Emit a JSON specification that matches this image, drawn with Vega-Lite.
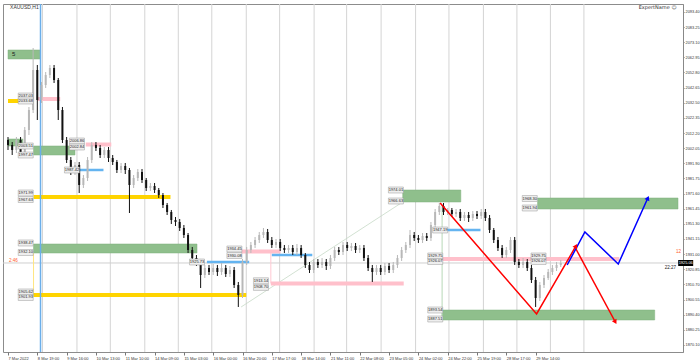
{
"$schema": "https://vega.github.io/schema/vega-lite/v6.json",
"width": 680, "height": 348,
"autosize": "none",
"padding": {"left": 3, "top": 4, "right": 17, "bottom": 10},
"background": "white",
"config": {"view": {"stroke": "#8c8c8c", "strokeWidth": 1}},
"resolve": {"axis": {"x": "independent", "y": "independent"}},
"datasets": {
"candles": [
{"b":0,"o":2007.53,"h":2009.54,"l":2000.83,"c":2004.18},
{"b":3,"o":2004.18,"h":2006.19,"l":1997.47,"c":2000.83},
{"b":6,"o":2000.83,"h":2009.54,"l":1998.81,"c":2007.53},
{"b":9,"o":2007.53,"h":2009.54,"l":1995.46,"c":1997.47},
{"b":12,"o":1997.47,"h":2016.25,"l":1995.46,"c":2014.24},
{"b":15,"o":2014.24,"h":2029.66,"l":2010.88,"c":2027.64},
{"b":18,"o":2027.64,"h":2069.22,"l":2025.63,"c":2054.47},
{"b":21,"o":2054.47,"h":2057.82,"l":2020.94,"c":2034.35},
{"b":24,"o":2034.35,"h":2046.42,"l":2032.34,"c":2044.41},
{"b":27,"o":2044.41,"h":2053.12,"l":2042.40,"c":2051.11},
{"b":30,"o":2051.11,"h":2057.82,"l":2049.10,"c":2055.81},
{"b":33,"o":2055.81,"h":2057.82,"l":2045.75,"c":2047.76},
{"b":36,"o":2047.76,"h":2049.10,"l":2020.94,"c":2027.64},
{"b":39,"o":2027.64,"h":2029.66,"l":2005.52,"c":2007.53},
{"b":42,"o":2007.53,"h":2009.54,"l":1992.11,"c":1994.12},
{"b":45,"o":1994.12,"h":1996.13,"l":1984.06,"c":1986.07},
{"b":48,"o":1986.07,"h":1992.78,"l":1984.06,"c":1990.77},
{"b":51,"o":1990.77,"h":1992.78,"l":1971.99,"c":1977.36},
{"b":54,"o":1977.36,"h":1984.06,"l":1975.35,"c":1982.05},
{"b":57,"o":1982.05,"h":1996.13,"l":1980.04,"c":1994.12},
{"b":60,"o":1994.12,"h":2006.19,"l":1992.11,"c":2004.18},
{"b":63,"o":2004.18,"h":2006.19,"l":2000.16,"c":2002.17},
{"b":66,"o":2002.17,"h":2004.18,"l":1995.46,"c":1997.47},
{"b":69,"o":1997.47,"h":2002.84,"l":1995.46,"c":2000.83},
{"b":72,"o":2000.83,"h":2002.84,"l":1992.78,"c":1995.46},
{"b":75,"o":1995.46,"h":1997.47,"l":1990.77,"c":1992.78},
{"b":78,"o":1992.78,"h":1994.12,"l":1985.40,"c":1987.42},
{"b":81,"o":1987.42,"h":1992.11,"l":1985.40,"c":1990.10},
{"b":84,"o":1990.10,"h":1992.11,"l":1984.73,"c":1987.42},
{"b":87,"o":1987.42,"h":1988.76,"l":1958.58,"c":1977.36},
{"b":90,"o":1977.36,"h":1984.06,"l":1975.35,"c":1982.05},
{"b":93,"o":1982.05,"h":1988.09,"l":1980.04,"c":1986.07},
{"b":96,"o":1986.07,"h":1988.09,"l":1978.70,"c":1980.71},
{"b":99,"o":1980.71,"h":1982.05,"l":1973.34,"c":1975.35},
{"b":102,"o":1975.35,"h":1978.70,"l":1973.34,"c":1976.69},
{"b":105,"o":1976.69,"h":1978.70,"l":1971.99,"c":1974.01},
{"b":108,"o":1974.01,"h":1975.35,"l":1968.64,"c":1970.65},
{"b":111,"o":1970.65,"h":1971.99,"l":1961.94,"c":1963.95},
{"b":114,"o":1963.95,"h":1965.29,"l":1957.24,"c":1959.26},
{"b":117,"o":1959.26,"h":1960.60,"l":1951.21,"c":1953.89},
{"b":120,"o":1953.89,"h":1955.90,"l":1949.87,"c":1952.55},
{"b":123,"o":1952.55,"h":1954.56,"l":1946.52,"c":1948.53},
{"b":126,"o":1948.53,"h":1950.54,"l":1941.82,"c":1943.83},
{"b":129,"o":1943.83,"h":1945.17,"l":1931.76,"c":1933.78},
{"b":132,"o":1933.78,"h":1935.79,"l":1925.73,"c":1928.41},
{"b":135,"o":1928.41,"h":1930.42,"l":1923.05,"c":1925.73},
{"b":138,"o":1925.73,"h":1927.74,"l":1908.30,"c":1917.01},
{"b":141,"o":1917.01,"h":1923.72,"l":1915.00,"c":1921.71},
{"b":144,"o":1921.71,"h":1923.72,"l":1917.01,"c":1919.02},
{"b":147,"o":1919.02,"h":1924.39,"l":1917.01,"c":1921.71},
{"b":150,"o":1921.71,"h":1923.72,"l":1916.34,"c":1919.02},
{"b":153,"o":1919.02,"h":1925.06,"l":1917.01,"c":1921.71},
{"b":156,"o":1921.71,"h":1923.72,"l":1915.67,"c":1917.68},
{"b":159,"o":1917.68,"h":1923.05,"l":1915.67,"c":1920.37},
{"b":162,"o":1920.37,"h":1922.38,"l":1908.30,"c":1910.31},
{"b":165,"o":1910.31,"h":1912.32,"l":1895.56,"c":1903.60},
{"b":168,"o":1903.60,"h":1927.74,"l":1901.59,"c":1925.73},
{"b":171,"o":1925.73,"h":1935.79,"l":1923.72,"c":1933.78},
{"b":174,"o":1933.78,"h":1939.14,"l":1931.76,"c":1937.13},
{"b":177,"o":1937.13,"h":1942.49,"l":1935.12,"c":1940.48},
{"b":180,"o":1940.48,"h":1945.85,"l":1938.47,"c":1943.83},
{"b":183,"o":1943.83,"h":1948.53,"l":1941.82,"c":1945.85},
{"b":186,"o":1945.85,"h":1947.86,"l":1938.47,"c":1940.48},
{"b":189,"o":1940.48,"h":1942.49,"l":1935.12,"c":1937.13},
{"b":192,"o":1937.13,"h":1941.15,"l":1935.12,"c":1939.14},
{"b":195,"o":1939.14,"h":1941.15,"l":1933.10,"c":1935.12},
{"b":198,"o":1935.12,"h":1937.13,"l":1931.76,"c":1933.78},
{"b":201,"o":1933.78,"h":1937.13,"l":1931.76,"c":1935.12},
{"b":204,"o":1935.12,"h":1937.13,"l":1930.42,"c":1932.43},
{"b":207,"o":1932.43,"h":1937.80,"l":1930.42,"c":1935.12},
{"b":210,"o":1935.12,"h":1937.13,"l":1928.41,"c":1930.42},
{"b":213,"o":1930.42,"h":1931.76,"l":1921.71,"c":1923.72},
{"b":216,"o":1923.72,"h":1925.73,"l":1918.35,"c":1920.37},
{"b":219,"o":1920.37,"h":1927.74,"l":1918.35,"c":1925.73},
{"b":222,"o":1925.73,"h":1927.74,"l":1921.71,"c":1923.72},
{"b":225,"o":1923.72,"h":1928.41,"l":1921.71,"c":1925.73},
{"b":228,"o":1925.73,"h":1927.74,"l":1920.37,"c":1923.05},
{"b":231,"o":1923.05,"h":1930.42,"l":1921.04,"c":1928.41},
{"b":234,"o":1928.41,"h":1935.79,"l":1926.40,"c":1933.78},
{"b":237,"o":1933.78,"h":1935.79,"l":1930.42,"c":1932.43},
{"b":240,"o":1932.43,"h":1939.14,"l":1930.42,"c":1937.13},
{"b":243,"o":1937.13,"h":1939.14,"l":1933.10,"c":1935.12},
{"b":246,"o":1935.12,"h":1938.47,"l":1933.10,"c":1936.46},
{"b":249,"o":1936.46,"h":1938.47,"l":1931.76,"c":1933.78},
{"b":252,"o":1933.78,"h":1937.13,"l":1931.76,"c":1935.12},
{"b":255,"o":1935.12,"h":1937.13,"l":1926.40,"c":1928.41},
{"b":258,"o":1928.41,"h":1930.42,"l":1919.69,"c":1921.71},
{"b":261,"o":1921.71,"h":1923.72,"l":1912.32,"c":1919.02},
{"b":264,"o":1919.02,"h":1923.72,"l":1917.01,"c":1921.71},
{"b":267,"o":1921.71,"h":1923.72,"l":1917.01,"c":1919.02},
{"b":270,"o":1919.02,"h":1925.06,"l":1917.01,"c":1923.05},
{"b":273,"o":1923.05,"h":1925.06,"l":1918.35,"c":1920.37},
{"b":276,"o":1920.37,"h":1925.73,"l":1918.35,"c":1923.72},
{"b":279,"o":1923.72,"h":1930.42,"l":1921.71,"c":1928.41},
{"b":282,"o":1928.41,"h":1935.79,"l":1926.40,"c":1933.78},
{"b":285,"o":1933.78,"h":1939.14,"l":1931.76,"c":1937.13},
{"b":288,"o":1937.13,"h":1947.19,"l":1935.12,"c":1943.83},
{"b":291,"o":1943.83,"h":1945.85,"l":1939.81,"c":1941.82},
{"b":294,"o":1941.82,"h":1943.83,"l":1938.47,"c":1940.48},
{"b":297,"o":1940.48,"h":1945.17,"l":1938.47,"c":1943.16},
{"b":300,"o":1943.16,"h":1945.17,"l":1939.81,"c":1941.82},
{"b":303,"o":1941.82,"h":1952.55,"l":1939.81,"c":1950.54},
{"b":306,"o":1950.54,"h":1961.27,"l":1948.53,"c":1959.26},
{"b":309,"o":1959.26,"h":1965.29,"l":1957.24,"c":1963.28},
{"b":312,"o":1963.28,"h":1965.29,"l":1957.24,"c":1959.26},
{"b":315,"o":1959.26,"h":1961.94,"l":1957.24,"c":1960.60},
{"b":318,"o":1960.60,"h":1961.94,"l":1955.90,"c":1957.91},
{"b":321,"o":1957.91,"h":1961.27,"l":1955.90,"c":1959.26},
{"b":324,"o":1959.26,"h":1961.27,"l":1953.22,"c":1955.23},
{"b":327,"o":1955.23,"h":1959.26,"l":1953.22,"c":1957.24},
{"b":330,"o":1957.24,"h":1959.26,"l":1952.55,"c":1955.23},
{"b":333,"o":1955.23,"h":1959.93,"l":1953.22,"c":1957.91},
{"b":336,"o":1957.91,"h":1959.93,"l":1954.56,"c":1956.57},
{"b":339,"o":1956.57,"h":1961.27,"l":1954.56,"c":1959.26},
{"b":342,"o":1959.26,"h":1961.27,"l":1953.22,"c":1955.23},
{"b":345,"o":1955.23,"h":1957.24,"l":1945.17,"c":1947.19},
{"b":348,"o":1947.19,"h":1948.53,"l":1938.47,"c":1940.48},
{"b":351,"o":1940.48,"h":1942.49,"l":1933.10,"c":1935.12},
{"b":354,"o":1935.12,"h":1937.13,"l":1928.41,"c":1930.42},
{"b":357,"o":1930.42,"h":1935.79,"l":1928.41,"c":1933.78},
{"b":360,"o":1933.78,"h":1942.49,"l":1931.76,"c":1940.48},
{"b":363,"o":1940.48,"h":1942.49,"l":1923.72,"c":1925.73},
{"b":366,"o":1925.73,"h":1927.74,"l":1921.71,"c":1923.72},
{"b":369,"o":1923.72,"h":1928.41,"l":1921.71,"c":1925.73},
{"b":372,"o":1925.73,"h":1927.74,"l":1919.69,"c":1921.71},
{"b":375,"o":1921.71,"h":1923.72,"l":1911.65,"c":1913.66},
{"b":378,"o":1913.66,"h":1915.67,"l":1895.56,"c":1901.59},
{"b":381,"o":1901.59,"h":1912.32,"l":1899.58,"c":1910.31},
{"b":384,"o":1910.31,"h":1917.01,"l":1908.30,"c":1915.00},
{"b":387,"o":1915.00,"h":1921.04,"l":1913.66,"c":1919.02},
{"b":390,"o":1919.02,"h":1923.72,"l":1917.01,"c":1921.71},
{"b":393,"o":1921.71,"h":1925.73,"l":1919.69,"c":1923.72},
{"b":396,"o":1923.72,"h":1927.07,"l":1922.38,"c":1925.06}
],
"grid": [{"b":24.7},{"b":49.4},{"b":73.3},{"b":98.0},{"b":122.0},{"b":146.0},{"b":170.7},{"b":194.6},{"b":219.3},{"b":242.6},{"b":267.3},{"b":292.0},{"b":315.9},{"b":340.6},{"b":364.6},{"b":388.6},{"b":412.6}],
"zones": [
{"b":0,"b2":23.3,"p":2067.88,"p2":2061.84},
{"b":0,"b2":10.6,"p":2008.20,"p2":2003.51},
{"b":18.3,"b2":48,"p":2003.51,"p2":1997.47},
{"b":18.3,"b2":135.4,"p":1937.80,"p2":1931.76},
{"b":282.8,"b2":324.4,"p":1974.01,"p2":1965.96},
{"b":379.4,"b2":480,"p":1968.64,"p2":1961.27},
{"b":311,"b2":463.3,"p":1893.54,"p2":1886.84}],
"yellow": [{"b":0,"b2":17.6,"p":2033.68},{"b":18.3,"b2":116.4,"p":1969.31},{"b":18.3,"b2":170.7,"p":1903.60}],
"pink": [{"b":21.2,"b2":37.4,"p":2035.02},{"b":55.7,"b2":74,"p":2004.51},{"b":167,"b2":195.3,"p":1932.77},{"b":188.3,"b2":283.5,"p":1911.32},{"b":311,"b2":437.9,"p":1927.74}],
"lightblue": [{"b":51.5,"b2":68.4,"p":1987.42},{"b":142.5,"b2":172.8,"p":1925.73},{"b":189,"b2":218,"p":1930.42},{"b":308.2,"b2":338.5,"p":1947.19}],
"red": [{"seg":1,"b":309.6,"p":1965.29},{"seg":1,"b":378.7,"p":1890.86},{"seg":1,"b":406.9,"p":1936.46},{"seg":2,"b":406.9,"p":1934.45},{"seg":2,"b":435.1,"p":1885.50}],
"blue": [{"b":400.6,"p":1923.72},{"b":413.3,"p":1945.85},{"b":437.2,"p":1924.39},{"b":458.4,"p":1968.64}],
"tags": [
{"b":12.7,"p":2037.03},{"b":12.7,"p":2033.68},{"b":12.7,"p":2003.51},{"b":12.7,"p":1997.47},
{"b":49.4,"p":2006.86},{"b":49.4,"p":2002.84},{"b":45.8,"p":1987.42},
{"b":12.7,"p":1971.99},{"b":12.7,"p":1967.63},{"b":12.7,"p":1938.47},{"b":12.7,"p":1932.10},
{"b":12.7,"p":1905.62},{"b":12.7,"p":1901.93},{"b":135.4,"p":1925.73},
{"b":162.2,"p":1934.45},{"b":162.2,"p":1930.08},{"b":181.2,"p":1913.14},{"b":181.2,"p":1908.70},
{"b":277.9,"p":1974.01},{"b":277.9,"p":1966.63},{"b":309.6,"p":1947.19},
{"b":306.1,"p":1929.75},{"b":306.1,"p":1926.07},{"b":306.1,"p":1893.54},{"b":306.1,"p":1887.51},
{"b":373.8,"p":1968.30},{"b":373.8,"p":1961.94},{"b":380.1,"p":1929.75},{"b":380.1,"p":1926.07}]
},
"layer": [
{"data":{"name":"grid"},"mark":{"type":"rule","color":"#d4d4d4","strokeWidth":1},
 "encoding":{"x":{"field":"b","type":"quantitative","scale":{"domain":[0,480],"nice":false,"zero":false},"axis":null}}},
{"data":{"values":[{"p":1925.06}]},"mark":{"type":"rule","color":"#cfcfcf","strokeWidth":1},
 "encoding":{"y":{"field":"p","type":"quantitative","scale":{"domain":[1865.38,2098.72],"nice":false,"zero":false},"axis":null}}},
{"data":{"values":[{"b":167,"p":1895.56},{"b":282.8,"p":1965.96}]},"mark":{"type":"line","color":"#c6d9c6","strokeWidth":0.8},
 "encoding":{"x":{"field":"b","type":"quantitative","scale":{"domain":[0,480],"nice":false,"zero":false},"axis":null},
  "y":{"field":"p","type":"quantitative","scale":{"domain":[1865.38,2098.72],"nice":false,"zero":false},"axis":null}}},
{"data":{"name":"zones"},"mark":{"type":"rect","color":"#8fbf8c","stroke":"#7fb07c","strokeWidth":0.5},
 "encoding":{"x":{"field":"b","type":"quantitative","scale":{"domain":[0,480],"nice":false,"zero":false},"axis":null},"x2":{"field":"b2"},
  "y":{"field":"p","type":"quantitative","scale":{"domain":[1865.38,2098.72],"nice":false,"zero":false},"axis":null},"y2":{"field":"p2"}}},
{"data":{"values":[{"b":18.3,"p":1931.76,"p2":1902.26}]},"mark":{"type":"rule","color":"#ffe680","strokeWidth":1},
 "encoding":{"x":{"field":"b","type":"quantitative","scale":{"domain":[0,480],"nice":false,"zero":false},"axis":null},
  "y":{"field":"p","type":"quantitative","scale":{"domain":[1865.38,2098.72],"nice":false,"zero":false},"axis":null},"y2":{"field":"p2"}}},
{"data":{"values":[{"b":311,"p":1963.95,"p2":1886.84}]},"mark":{"type":"rule","color":"#b8d8b8","strokeWidth":1},
 "encoding":{"x":{"field":"b","type":"quantitative","scale":{"domain":[0,480],"nice":false,"zero":false},"axis":null},
  "y":{"field":"p","type":"quantitative","scale":{"domain":[1865.38,2098.72],"nice":false,"zero":false},"axis":null},"y2":{"field":"p2"}}},
{"data":{"values":[{"b":188.3,"p":1932.77,"p2":1911.32}]},"mark":{"type":"rule","color":"#ffc8d2","strokeWidth":1},
 "encoding":{"x":{"field":"b","type":"quantitative","scale":{"domain":[0,480],"nice":false,"zero":false},"axis":null},
  "y":{"field":"p","type":"quantitative","scale":{"domain":[1865.38,2098.72],"nice":false,"zero":false},"axis":null},"y2":{"field":"p2"}}},
{"data":{"name":"yellow"},"mark":{"type":"rule","color":"#ffd400","strokeWidth":4},
 "encoding":{"x":{"field":"b","type":"quantitative","scale":{"domain":[0,480],"nice":false,"zero":false},"axis":null},"x2":{"field":"b2"},
  "y":{"field":"p","type":"quantitative","scale":{"domain":[1865.38,2098.72],"nice":false,"zero":false},"axis":null}}},
{"data":{"name":"pink"},"mark":{"type":"rule","color":"#ffc0cb","strokeWidth":4},
 "encoding":{"x":{"field":"b","type":"quantitative","scale":{"domain":[0,480],"nice":false,"zero":false},"axis":null},"x2":{"field":"b2"},
  "y":{"field":"p","type":"quantitative","scale":{"domain":[1865.38,2098.72],"nice":false,"zero":false},"axis":null}}},
{"data":{"name":"lightblue"},"mark":{"type":"rule","color":"#64b4f0","strokeWidth":2.5},
 "encoding":{"x":{"field":"b","type":"quantitative","scale":{"domain":[0,480],"nice":false,"zero":false},"axis":null},"x2":{"field":"b2"},
  "y":{"field":"p","type":"quantitative","scale":{"domain":[1865.38,2098.72],"nice":false,"zero":false},"axis":null}}},
{"data":{"values":[{"b":23.3}]},"mark":{"type":"rule","color":"#6aaeea","strokeWidth":1.5},
 "encoding":{"x":{"field":"b","type":"quantitative","scale":{"domain":[0,480],"nice":false,"zero":false},"axis":null}}},
{"data":{"name":"candles"},"mark":{"type":"rule","strokeWidth":1},
 "encoding":{
  "x":{"field":"b","type":"quantitative","scale":{"domain":[0,480],"nice":false,"zero":false},
   "axis":{"orient":"bottom","title":null,"grid":false,"domain":false,
    "values":[0,21,42,63,84,105,126,147,168,189,210,231,252,273,294,315,336,357,378],
    "labelExpr":"['7 Mar 2022','8 Mar 19:00','9 Mar 16:00','10 Mar 13:00','11 Mar 10:00','14 Mar 09:00','15 Mar 03:00','16 Mar 00:00','16 Mar 20:00','17 Mar 17:00','18 Mar 14:00','21 Mar 11:00','22 Mar 08:00','23 Mar 05:00','24 Mar 02:00','24 Mar 22:00','25 Mar 19:00','28 Mar 17:00','29 Mar 14:00'][round(datum.value/21)]",
    "labelAlign":"left","labelFontSize":4,"labelFont":"Liberation Sans","labelColor":"#333333","tickSize":3,"tickColor":"#777777","labelPadding":1,"labelOverlap":false,"labelBound":false,"labelFlush":false}},
  "y":{"field":"l","type":"quantitative","scale":{"domain":[1865.38,2098.72],"nice":false,"zero":false},
   "axis":{"orient":"right","title":null,"grid":false,"domain":true,"domainColor":"#888888",
    "values":[1870.10,1880.25,1890.40,1900.55,1910.70,1920.85,1931.00,1941.15,1951.30,1961.45,1971.60,1981.75,1991.90,2002.05,2012.20,2022.35,2032.50,2042.65,2052.80,2062.95,2073.10,2083.25,2093.40],
    "format":".2f","labelFontSize":3.9,"labelFont":"Liberation Sans","labelColor":"#333333","tickSize":1,"tickColor":"#777777","labelPadding":1,"labelOverlap":false,"labelBound":false,"labelFlush":false}},
  "y2":{"field":"h"},
  "color":{"condition":{"test":"datum.c < datum.o","value":"#111111"},"value":"#b8b8b8"}}},
{"data":{"name":"candles"},"mark":{"type":"bar","width":2},
 "encoding":{
  "x":{"field":"b","type":"quantitative","scale":{"domain":[0,480],"nice":false,"zero":false},"axis":null},
  "y":{"field":"o","type":"quantitative","scale":{"domain":[1865.38,2098.72],"nice":false,"zero":false},"axis":null},
  "y2":{"field":"c"},
  "color":{"condition":{"test":"datum.c < datum.o","value":"#111111"},"value":"#b8b8b8"}}},
{"data":{"name":"red"},"mark":{"type":"line","color":"#ff0000","strokeWidth":1.5},
 "encoding":{"x":{"field":"b","type":"quantitative","scale":{"domain":[0,480],"nice":false,"zero":false},"axis":null},
  "y":{"field":"p","type":"quantitative","scale":{"domain":[1865.38,2098.72],"nice":false,"zero":false},"axis":null},
  "detail":{"field":"seg","type":"nominal"}}},
{"data":{"name":"blue"},"mark":{"type":"line","color":"#0000ff","strokeWidth":1.5},
 "encoding":{"x":{"field":"b","type":"quantitative","scale":{"domain":[0,480],"nice":false,"zero":false},"axis":null},
  "y":{"field":"p","type":"quantitative","scale":{"domain":[1865.38,2098.72],"nice":false,"zero":false},"axis":null}}},
{"data":{"values":[{"b":458.4,"p":1968.64}]},"mark":{"type":"point","shape":"triangle-up","filled":true,"color":"#0000ff","size":28,"angle":24,"opacity":1},
 "encoding":{"x":{"field":"b","type":"quantitative","scale":{"domain":[0,480],"nice":false,"zero":false},"axis":null},
  "y":{"field":"p","type":"quantitative","scale":{"domain":[1865.38,2098.72],"nice":false,"zero":false},"axis":null}}},
{"data":{"values":[{"b":406.9,"p":1936.46}]},"mark":{"type":"point","shape":"triangle-up","filled":true,"color":"#ff0000","size":28,"angle":30,"opacity":1},
 "encoding":{"x":{"field":"b","type":"quantitative","scale":{"domain":[0,480],"nice":false,"zero":false},"axis":null},
  "y":{"field":"p","type":"quantitative","scale":{"domain":[1865.38,2098.72],"nice":false,"zero":false},"axis":null}}},
{"data":{"values":[{"b":435.1,"p":1885.50}]},"mark":{"type":"point","shape":"triangle-up","filled":true,"color":"#ff0000","size":28,"angle":151,"opacity":1},
 "encoding":{"x":{"field":"b","type":"quantitative","scale":{"domain":[0,480],"nice":false,"zero":false},"axis":null},
  "y":{"field":"p","type":"quantitative","scale":{"domain":[1865.38,2098.72],"nice":false,"zero":false},"axis":null}}},
{"data":{"name":"tags"},"mark":{"type":"point","shape":"M-1,-0.4H1V0.4H-1Z","size":225,"filled":true,"fill":"#eeeeee","stroke":"#9a9a9a","strokeWidth":0.5,"opacity":1},
 "encoding":{"x":{"field":"b","type":"quantitative","scale":{"domain":[0,480],"nice":false,"zero":false},"axis":null},
  "y":{"field":"p","type":"quantitative","scale":{"domain":[1865.38,2098.72],"nice":false,"zero":false},"axis":null}}},
{"data":{"name":"tags"},"mark":{"type":"text","fontSize":4,"font":"Liberation Sans","color":"#222222","align":"center","baseline":"middle"},
 "encoding":{"x":{"field":"b","type":"quantitative","scale":{"domain":[0,480],"nice":false,"zero":false},"axis":null},
  "y":{"field":"p","type":"quantitative","scale":{"domain":[1865.38,2098.72],"nice":false,"zero":false},"axis":null},
  "text":{"field":"p","type":"quantitative","format":".2f"}}},
{"data":{"values":[{"b":1.5,"p":2096.7,"t":"XAUUSD,H1"}]},"mark":{"type":"text","fontSize":5,"font":"Liberation Sans","color":"#333333","align":"left","baseline":"middle"},
 "encoding":{"x":{"field":"b","type":"quantitative","scale":{"domain":[0,480],"nice":false,"zero":false},"axis":null},
  "y":{"field":"p","type":"quantitative","scale":{"domain":[1865.38,2098.72],"nice":false,"zero":false},"axis":null},
  "text":{"field":"t"}}},
{"data":{"values":[{"b":479,"p":2096.7,"t":"ExpertName ☺"}]},"mark":{"type":"text","fontSize":5,"font":"DejaVu Sans","color":"#333333","align":"right","baseline":"middle"},
 "encoding":{"x":{"field":"b","type":"quantitative","scale":{"domain":[0,480],"nice":false,"zero":false},"axis":null},
  "y":{"field":"p","type":"quantitative","scale":{"domain":[1865.38,2098.72],"nice":false,"zero":false},"axis":null},
  "text":{"field":"t"}}},
{"data":{"values":[{"b":2.8,"p":2065.19,"t":"5"}]},"mark":{"type":"text","fontSize":6,"font":"Liberation Sans","color":"#1a1a1a","align":"left","baseline":"middle"},
 "encoding":{"x":{"field":"b","type":"quantitative","scale":{"domain":[0,480],"nice":false,"zero":false},"axis":null},
  "y":{"field":"p","type":"quantitative","scale":{"domain":[1865.38,2098.72],"nice":false,"zero":false},"axis":null},
  "text":{"field":"t"}}},
{"data":{"values":[{"b":0.8,"p":1926.4,"t":"2:46"},{"b":478.5,"p":1932.43,"t":"12"}]},"mark":{"type":"text","fontSize":4.5,"font":"Liberation Sans","color":"#ff5a2a","align":"left","baseline":"middle"},
 "encoding":{"x":{"field":"b","type":"quantitative","scale":{"domain":[0,480],"nice":false,"zero":false},"axis":null},
  "y":{"field":"p","type":"quantitative","scale":{"domain":[1865.38,2098.72],"nice":false,"zero":false},"axis":null},
  "text":{"field":"t"}}},
{"data":{"values":[{"b":474.6,"p":1921.4,"t":"22:27"}]},"mark":{"type":"text","fontSize":4.5,"font":"Liberation Sans","color":"#222222","align":"center","baseline":"middle"},
 "encoding":{"x":{"field":"b","type":"quantitative","scale":{"domain":[0,480],"nice":false,"zero":false},"axis":null},
  "y":{"field":"p","type":"quantitative","scale":{"domain":[1865.38,2098.72],"nice":false,"zero":false},"axis":null},
  "text":{"field":"t"}}},
{"data":{"values":[{"b":485.5,"p":1925.06}]},"mark":{"type":"point","shape":"M-1,-0.4H1V0.4H-1Z","size":225,"filled":true,"fill":"#000000","opacity":1},
 "encoding":{"x":{"field":"b","type":"quantitative","scale":{"domain":[0,480],"nice":false,"zero":false},"axis":null},
  "y":{"field":"p","type":"quantitative","scale":{"domain":[1865.38,2098.72],"nice":false,"zero":false},"axis":null}}},
{"data":{"values":[{"b":485.5,"p":1925.06}]},"mark":{"type":"text","fontSize":3.9,"font":"Liberation Sans","color":"#ffffff","align":"center","baseline":"middle"},
 "encoding":{"x":{"field":"b","type":"quantitative","scale":{"domain":[0,480],"nice":false,"zero":false},"axis":null},
  "y":{"field":"p","type":"quantitative","scale":{"domain":[1865.38,2098.72],"nice":false,"zero":false},"axis":null},
  "text":{"field":"p","type":"quantitative","format":".2f"}}}
]
}
